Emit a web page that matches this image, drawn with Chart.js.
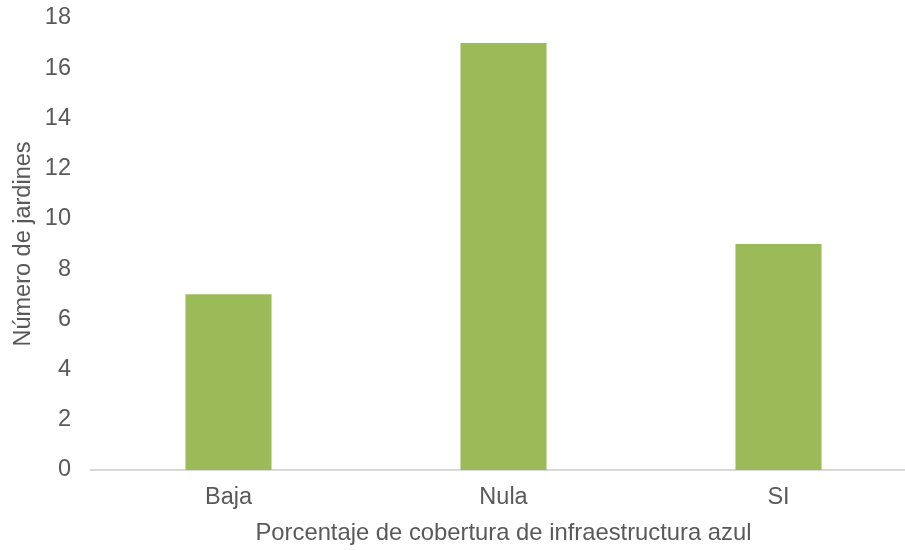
<!DOCTYPE html>
<html>
<head>
<meta charset="utf-8">
<script src="https://cdn.jsdelivr.net/npm/chart.js@4"></script>
<style>
  html, body { margin: 0; padding: 0; background: #fff; overflow: hidden; }
</style>
</head>
<body>
<canvas id="chart" width="916" height="550" style="width:916px;height:550px;display:block"></canvas>
<script>
const categories = ['Baja', 'Nula', 'SI']
const jardines = [7, 17, 9]
const yTicks = [0, 2, 4, 6, 8, 10, 12, 14, 16, 18]

Chart.defaults.font.family = '"Liberation Sans", Arial, sans-serif'
Chart.defaults.color = '#595959'

const ctx = document.getElementById('chart').getContext('2d')
new Chart(ctx, {
    type: 'bar',
    data: {
        labels: categories,
        datasets: [{
            data: jardines,
            backgroundColor: '#9bbb59',
            categoryPercentage: 1,
            barPercentage: 0.313
        }]
    },
    options: {
        responsive: false,
        animation: false,
        layout: { padding: { top: 18, left: 9, right: 0, bottom: 2 } },
        plugins: { legend: { display: false }, tooltip: { enabled: false } },
        scales: {
            x: {
                afterFit: scale => { scale.height = 78 },
                grid: { display: false, drawTicks: false },
                border: { color: '#d9d9d9', width: 2 },
                ticks: { font: { size: 23.5 }, padding: 13 },
                title: {
                    display: true,
                    text: 'Porcentaje de cobertura de infraestructura azul',
                    font: { size: 23.8 },
                    padding: { top: 7, bottom: 0 }
                }
            },
            y: {
                min: 0,
                max: 18,
                afterFit: scale => {
                    scale.width = 82
                    scale.paddingTop = 0
                    scale.paddingBottom = 0
                },
                afterBuildTicks: axis => { axis.ticks = yTicks.map(v => ({ value: v })) },
                grid: { display: false, drawTicks: false },
                border: { display: false },
                ticks: { font: { size: 23.5 }, padding: 20 },
                title: {
                    display: true,
                    text: 'Número de jardines',
                    font: { size: 23.5 },
                    padding: { top: 0, bottom: 7 }
                }
            }
        }
    }
})
</script>
</body>
</html>
